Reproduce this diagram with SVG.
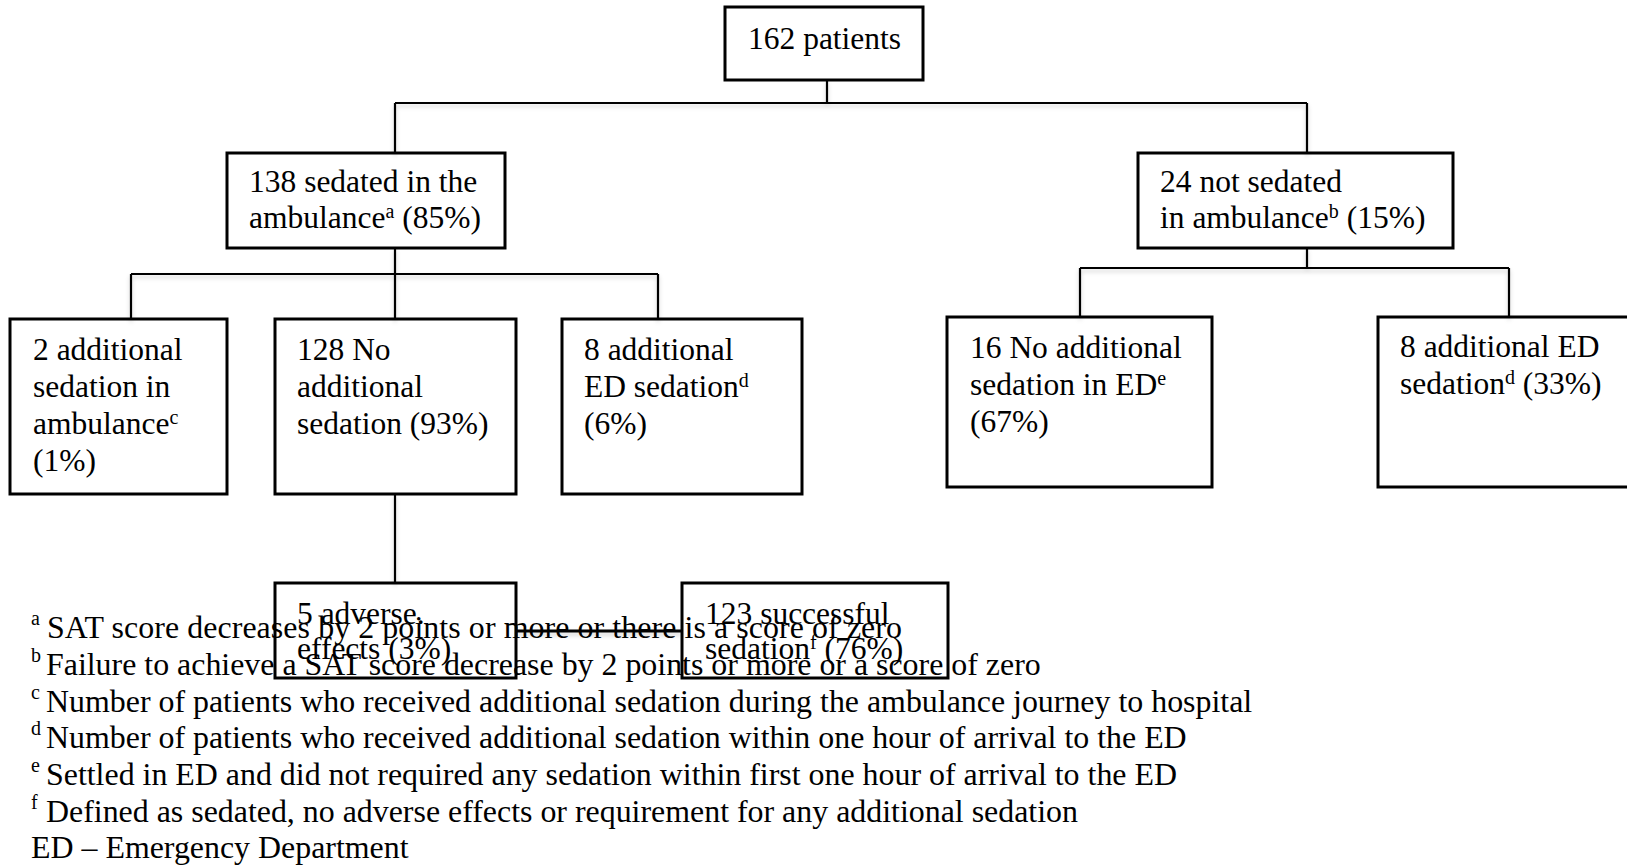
<svg xmlns="http://www.w3.org/2000/svg" width="1627" height="868" viewBox="0 0 1627 868">
<style>
  text { font-family: "Liberation Serif", "Times New Roman", serif; fill: #000; }
  .t { font-size: 31.5px; }
  .fn { font-size: 31.9px; }
  .sup { font-size: 20px; }
  .box { fill: none; stroke: #000; stroke-width: 3; }
  .con { fill: none; stroke: #000; stroke-width: 2.2; }
</style>
<defs>
  <filter id="sh" x="-5%" y="-20%" width="110%" height="160%">
    <feDropShadow dx="0" dy="3" stdDeviation="2" flood-color="#000" flood-opacity="0.18"/>
  </filter>
</defs>
<rect width="1627" height="868" fill="#fff"/>

<g id="footnotes">
  <text class="fn" y="638"><tspan x="31" class="sup" dy="-13">a</tspan><tspan x="47" dy="13" textLength="855" lengthAdjust="spacing">SAT score decreases by 2 points or more or there is a score of zero</tspan></text>
  <text class="fn" y="675"><tspan x="31" class="sup" dy="-13">b</tspan><tspan x="46" dy="13">Failure to achieve a SAT score decrease by 2 points or more or a score of zero</tspan></text>
  <text class="fn" y="711.5"><tspan x="31" class="sup" dy="-13">c</tspan><tspan x="46" dy="13">Number of patients who received additional sedation during the ambulance journey to hospital</tspan></text>
  <text class="fn" y="748"><tspan x="31" class="sup" dy="-13">d</tspan><tspan x="46" dy="13">Number of patients who received additional sedation within one hour of arrival to the ED</tspan></text>
  <text class="fn" y="785"><tspan x="31" class="sup" dy="-13">e</tspan><tspan x="46" dy="13">Settled in ED and did not required any sedation within first one hour of arrival to the ED</tspan></text>
  <text class="fn" y="821.5"><tspan x="31" class="sup" dy="-13">f</tspan><tspan x="46" dy="13">Defined as sedated, no adverse effects or requirement for any additional sedation</tspan></text>
  <text class="fn" x="31" y="858">ED – Emergency Department</text>
</g>

<g id="connectors" class="con" filter="url(#sh)">
  <path d="M827 80 V103"/>
  <path d="M395 103 H1307"/>
  <path d="M395 103 V153 M1307 103 V153"/>
  <path d="M395 248 V274"/>
  <path d="M131 274 H658"/>
  <path d="M131 274 V319 M395 274 V319 M658 274 V319"/>
  <path d="M1307 248 V268"/>
  <path d="M1080 268 H1509"/>
  <path d="M1080 268 V317 M1509 268 V317"/>
  <path d="M395 494 V583"/>
  <path d="M516 631 H682" stroke-width="3"/>
</g>

<g id="n162">
  <rect class="box" x="725" y="7" width="198" height="73"/>
  <text class="t" x="748" y="49">162 patients</text>
</g>

<g id="n138">
  <rect class="box" x="227" y="153" width="278" height="95"/>
  <text class="t" x="249" y="192">138 sedated in the</text>
  <text class="t" x="249" y="228">ambulance<tspan class="sup" dy="-10">a</tspan><tspan dy="10"> (85%)</tspan></text>
</g>

<g id="n24">
  <rect class="box" x="1138" y="153" width="315" height="95"/>
  <text class="t" x="1160" y="192">24 not sedated</text>
  <text class="t" x="1160" y="228">in ambulance<tspan class="sup" dy="-10">b</tspan><tspan dy="10"> (15%)</tspan></text>
</g>

<g id="n2">
  <rect class="box" x="10" y="319" width="217" height="175"/>
  <text class="t" x="33" y="360">2 additional</text>
  <text class="t" x="33" y="397">sedation in</text>
  <text class="t" x="33" y="434">ambulance<tspan class="sup" dy="-10">c</tspan></text>
  <text class="t" x="33" y="471">(1%)</text>
</g>

<g id="n128">
  <rect class="box" x="275" y="319" width="241" height="175"/>
  <text class="t" x="297" y="360">128 No</text>
  <text class="t" x="297" y="397">additional</text>
  <text class="t" x="297" y="434">sedation (93%)</text>
</g>

<g id="n8a">
  <rect class="box" x="562" y="319" width="240" height="175"/>
  <text class="t" x="584" y="360">8 additional</text>
  <text class="t" x="584" y="397">ED sedation<tspan class="sup" dy="-10">d</tspan></text>
  <text class="t" x="584" y="434">(6%)</text>
</g>

<g id="n16">
  <rect class="box" x="947" y="317" width="265" height="170"/>
  <text class="t" x="970" y="358">16 No additional</text>
  <text class="t" x="970" y="395">sedation in ED<tspan class="sup" dy="-10">e</tspan></text>
  <text class="t" x="970" y="432">(67%)</text>
</g>

<g id="n8b">
  <rect class="box" x="1378" y="317" width="270" height="170"/>
  <text class="t" x="1400" y="357">8 additional ED</text>
  <text class="t" x="1400" y="394">sedation<tspan class="sup" dy="-10">d</tspan><tspan dy="10"> (33%)</tspan></text>
</g>

<g id="n5">
  <rect class="box" x="275" y="583" width="241" height="95"/>
  <text class="t" x="297" y="624">5 adverse.</text>
  <text class="t" x="297" y="659">effects (3%)</text>
</g>

<g id="n123">
  <rect class="box" x="682" y="583" width="266" height="95"/>
  <text class="t" x="705" y="624">123 successful</text>
  <text class="t" x="705" y="659">sedation<tspan class="sup" dy="-10">f</tspan><tspan dy="10"> (76%)</tspan></text>
</g>
</svg>
